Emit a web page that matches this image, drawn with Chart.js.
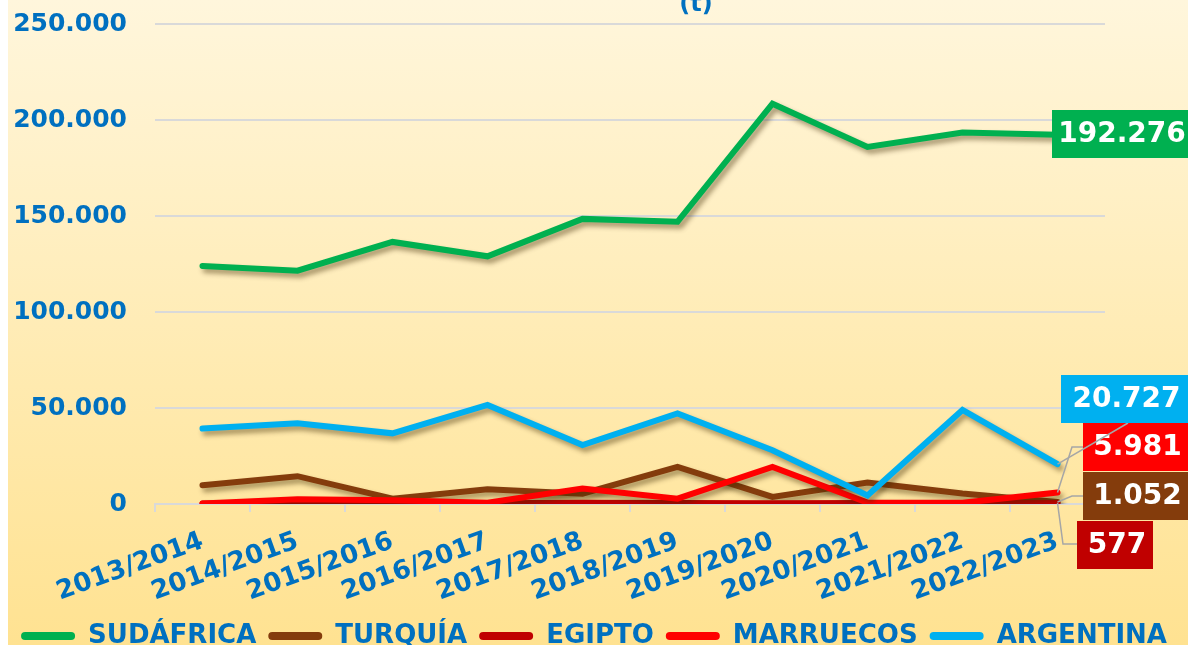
<!DOCTYPE html>
<html>
<head>
<meta charset="utf-8">
<script src="https://cdn.jsdelivr.net/npm/chart.js@4.4.1/dist/chart.umd.min.js"></script>
<style>
  html, body { margin: 0; padding: 0; background: #fff; }
  #wrap { width: 1188px; height: 645px; position: relative; }
</style>
</head>
<body>
<div id="wrap"><canvas id="js-line-chart"></canvas></div>
<script>
// campañas
const campaigns = ["2013/2014", "2014/2015", "2015/2016", "2016/2017", "2017/2018",
    "2018/2019", "2019/2020", "2020/2021", "2021/2022", "2022/2023"];

// toneladas por origen
const sudafrica = [124000, 121500, 136500, 129000, 148500, 147000, 208500, 186000, 193500, 192276];
const turquia   = [9800, 14500, 2800, 7700, 5400, 19300, 3700, 11200, 5500, 1052];
const egipto    = [300, 400, 500, 400, 600, 500, 400, 500, 500, 577];
const marruecos = [300, 2500, 2000, 700, 8000, 2800, 19300, 700, 600, 5981];
const argentina = [39300, 42000, 36800, 51600, 30700, 47200, 28000, 4500, 49000, 20727];

const blue = "#0070C0";
const fmt = (v) => Math.round(v).toString().replace(/\B(?=(\d{3})+(?!\d))/g, ".");

// etiqueta del último valor: caja + línea guía
const endLabels = {
    0: { bg: "#00B050", left: 1052, cy: 134, w: 136, guide: null },
    4: { bg: "#00B0F0", left: 1061, cy: 399, w: 127, guide: [[1128, 423]] },
    3: { bg: "#FF0000", left: 1083, cy: 447, w: 105, guide: [[1072, 447], [1083, 447]] },
    1: { bg: "#843C0C", left: 1083, cy: 496, w: 105, guide: [[1072, 496], [1083, 496]] },
    2: { bg: "#C00000", left: 1077, cy: 545, w: 76, guide: [[1063, 544], [1077, 544]] },
};

const background = {
    id: "background",
    beforeDraw(chart) {
        const { ctx, width, height } = chart;
        const g = ctx.createLinearGradient(0, 0, 0, height);
        g.addColorStop(0, "#FFF6DC");
        g.addColorStop(1, "#FFE291");
        ctx.save();
        ctx.fillStyle = "#ffffff";
        ctx.fillRect(0, 0, width, height);
        ctx.fillStyle = g;
        ctx.fillRect(8, 0, width - 8, height);
        ctx.fillStyle = blue;
        ctx.font = "bold 24px 'DejaVu Sans'";
        ctx.textAlign = "center";
        ctx.textBaseline = "middle";
        ctx.fillText("(t)", 696, 5);
        ctx.restore();
    },
};

const lineShadow = {
    id: "lineShadow",
    beforeDatasetDraw(chart) {
        const ctx = chart.ctx;
        ctx.save();
        ctx.shadowColor = "rgba(60,40,0,0.45)";
        ctx.shadowBlur = 5;
        ctx.shadowOffsetX = 3;
        ctx.shadowOffsetY = 4;
    },
    afterDatasetDraw(chart) {
        chart.ctx.restore();
    },
};

const lastValues = {
    id: "lastValues",
    afterDatasetsDraw(chart) {
        const ctx = chart.ctx;
        ctx.save();
        Object.keys(endLabels).forEach((k) => {
            const i = Number(k);
            const cfg = endLabels[i];
            const meta = chart.getDatasetMeta(i);
            const pt = meta.data[meta.data.length - 1];
            const value = chart.data.datasets[i].data[meta.data.length - 1];
            if (cfg.guide) {
                ctx.strokeStyle = "#A6A6A6";
                ctx.lineWidth = 1.5;
                ctx.beginPath();
                ctx.moveTo(pt.x, pt.y);
                cfg.guide.forEach(([x, y]) => ctx.lineTo(x, y));
                ctx.stroke();
            }
            ctx.fillStyle = cfg.bg;
            ctx.fillRect(cfg.left, cfg.cy - 24, cfg.w, 48);
            ctx.fillStyle = "#ffffff";
            ctx.font = "bold 28px 'DejaVu Sans'";
            ctx.textAlign = "center";
            ctx.textBaseline = "middle";
            ctx.fillText(fmt(value), cfg.left + cfg.w / 2 + 2, cfg.cy + 1);
        });
        ctx.restore();
    },
};

const series = (label, data, color, order) => ({
    label,
    data,
    borderColor: color,
    backgroundColor: color,
    borderWidth: 6,
    borderCapStyle: "round",
    borderJoinStyle: "miter",
    pointRadius: 0,
    tension: 0,
    order,
});

new Chart(document.getElementById("js-line-chart"), {
    type: "line",
    data: {
        labels: campaigns,
        datasets: [
            series("SUDÁFRICA", sudafrica, "#00B050", 5),
            series("TURQUÍA", turquia, "#843C0C", 4),
            series("EGIPTO", egipto, "#C00000", 3),
            series("MARRUECOS", marruecos, "#FF0000", 2),
            series("ARGENTINA", argentina, "#00B0F0", 1),
        ],
    },
    options: {
        responsive: true,
        maintainAspectRatio: false,
        animation: false,
        layout: { padding: { top: 24, right: 0, bottom: -14, left: 0 } },
        plugins: {
            tooltip: { enabled: false },
            legend: {
                position: "bottom",
                labels: {
                    sort: (a, b) => a.datasetIndex - b.datasetIndex,
                    generateLabels: (chart) =>
                        Chart.defaults.plugins.legend.labels.generateLabels(chart).map((l) => ({ ...l, lineWidth: 0 })),
                    color: blue,
                    font: { family: "'DejaVu Sans'", size: 26, weight: "bold" },
                    boxWidth: 54,
                    boxHeight: 8,
                    useBorderRadius: true,
                    borderRadius: 4,
                    padding: 12,
                },
            },
        },
        scales: {
            x: {
                offset: true,
                afterFit(scale) { scale.height = 107; },
                grid: { display: true, drawOnChartArea: false, drawTicks: true, tickLength: 8, color: "#D9D9D9", lineWidth: 2, offset: true },
                border: { display: true, color: "#D9D9D9", width: 2 },
                ticks: {
                    color: blue,
                    font: { family: "'DejaVu Sans'", size: 26, weight: "bold" },
                    autoSkip: false,
                    minRotation: 20,
                    maxRotation: 20,
                    padding: 14,
                },
            },
            y: {
                min: 0,
                max: 250000,
                afterFit(scale) { scale.width = 155; },
                grid: { color: "#D9D9D9", lineWidth: 2, drawTicks: true, tickLength: 28, tickColor: "rgba(0,0,0,0)" },
                border: { display: false },
                ticks: {
                    stepSize: 50000,
                    color: blue,
                    padding: 0,
                    font: { family: "'DejaVu Sans'", size: 25, weight: "bold" },
                    callback: (v) => fmt(v),
                },
            },
            y2: {
                position: "right",
                afterFit(scale) { scale.width = 83; },
                grid: { drawOnChartArea: false, drawTicks: false },
                border: { display: false },
                ticks: { display: false },
            },
        },
    },
    plugins: [background, lineShadow, lastValues],
});
</script>
</body>
</html>
